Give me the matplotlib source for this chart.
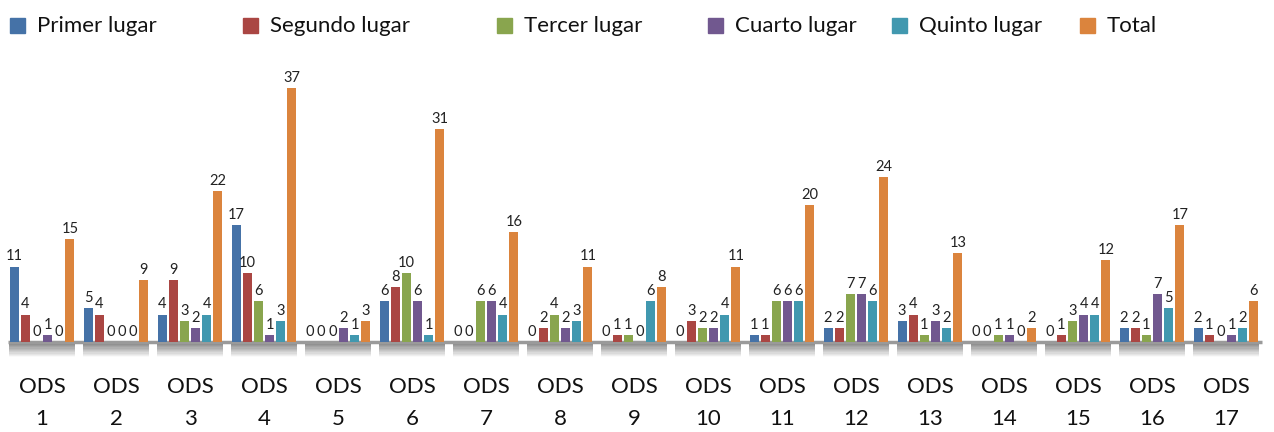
import numpy as np
import matplotlib
matplotlib.use("Agg")
import matplotlib.pyplot as plt
from matplotlib.patches import Rectangle

# data
groups = ["ODS\n%d" % i for i in range(1, 18)]
series_names = ["Primer lugar", "Segundo lugar", "Tercer lugar",
                "Cuarto lugar", "Quinto lugar", "Total"]
primer = [11, 5, 4, 17, 0, 6, 0, 0, 0, 0, 1, 2, 3, 0, 0, 2, 2]
segundo = [4, 4, 9, 10, 0, 8, 0, 2, 1, 3, 1, 2, 4, 0, 1, 2, 1]
tercer = [0, 0, 3, 6, 0, 10, 6, 4, 1, 2, 6, 7, 1, 1, 3, 1, 0]
cuarto = [1, 0, 2, 1, 2, 6, 6, 2, 0, 2, 6, 7, 3, 1, 4, 7, 1]
quinto = [0, 0, 4, 3, 1, 1, 4, 3, 6, 4, 6, 6, 2, 0, 4, 5, 2]
total = [15, 9, 22, 37, 3, 31, 16, 11, 8, 11, 20, 24, 13, 2, 12, 17, 6]

colors = ["#4572A7", "#AA4643", "#89A54E", "#71588F", "#4198AF", "#DB843D"]

plt.rcParams['font.family'] = ['Lato', 'DejaVu Sans']

W, H = 1274, 432
fig = plt.figure(figsize=(W / 100, H / 100), dpi=100)
ax = fig.add_axes([0, (H - 358.5) / H, 1, 291 / H])

x = np.arange(len(groups))
step = 0.151
width = 0.12
all_series = [primer, segundo, tercer, cuarto, quinto, total]
for k, (vals, c) in enumerate(zip(all_series, colors)):
    pos = x + (k - 2.5) * step
    ax.bar(pos, vals, width=width, color=c, zorder=3)
    for p, v in zip(pos, vals):
        ax.text(p, v + 0.45, str(v), ha='center', va='bottom',
                fontsize=10.5, color='#222222', zorder=4)

# gray floor under each group
n_strip = 12
for i in x:
    for s in range(n_strip):
        g = 0.52 + 0.46 * s / (n_strip - 1)
        ax.add_patch(Rectangle((i - 0.44, -0.25 - s * 0.18), 0.89, 0.19,
                               color=(g, g, g), lw=0, zorder=1))

ax.hlines(0, -0.46, 16.49, color='#9a9a9a', lw=2.5, zorder=2)

ax.set_xlim(-42 / 74, 16 + 48 / 74)
ax.set_ylim(-2.4, 40)
ax.set_xticks(x)
ax.set_xticklabels(groups, fontsize=16, linespacing=1.75, color='#111111')
ax.tick_params(axis='x', length=0, pad=13)
ax.set_yticks([])
for sp in ax.spines.values():
    sp.set_visible(False)

# legend across the top
leg_x = [10, 243, 497, 708, 892, 1080]
for lx, name, c in zip(leg_x, series_names, colors):
    fig.patches.append(Rectangle((lx / W, 1 - 33 / H), 15 / W, 15 / H,
                                 color=c, transform=fig.transFigure))
    fig.text((lx + 27) / W, 1 - 25.5 / H, name, fontsize=16,
             va='center', ha='left', color='#111111')

fig.savefig("out.png", dpi=100)
